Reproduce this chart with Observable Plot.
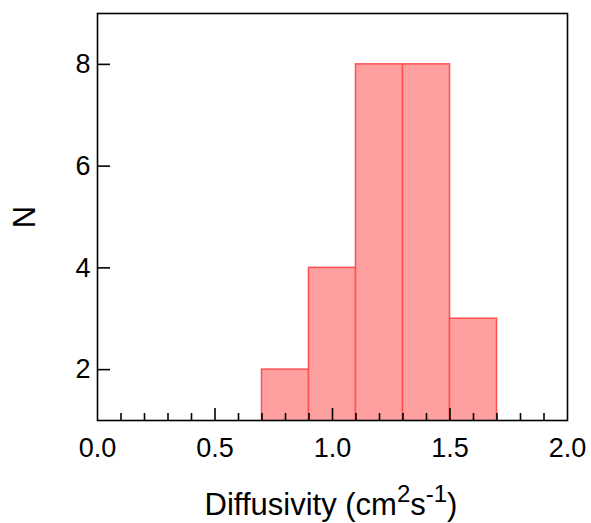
<!DOCTYPE html>
<html><head><meta charset="utf-8">
<script src="https://cdn.jsdelivr.net/npm/d3@7"></script>
<script src="https://cdn.jsdelivr.net/npm/@observablehq/plot@0.6"></script>
<style>body{margin:0;background:#fff}</style>
</head><body><div id="chart"></div>
<script>
const binStart = [0.7, 0.9, 1.1, 1.3, 1.5];
const binEnd = [0.9, 1.1, 1.3, 1.5, 1.7];
const counts = [2, 4, 8, 8, 3];
const xMajorTicks = [0.0, 0.5, 1.0, 1.5, 2.0];
const xMinorTicks = [0.1,0.2,0.3,0.4,0.6,0.7,0.8,0.9,1.1,1.2,1.3,1.4,1.6,1.7,1.8,1.9];
const yTicks = [2, 4, 6, 8];
const xLabel = "Diffusivity (cm";
const yLabel = "N";

const bins = binStart.map((s, i) => ({x1: s, x2: binEnd[i], n: counts[i]}));
const font = "Liberation Sans, Arial, sans-serif";

const svg = Plot.plot({
  width: 591, height: 523,
  marginLeft: 97, marginRight: 24, marginTop: 13, marginBottom: 103,
  style: {fontFamily: font, background: "#fff", color: "#000"},
  x: {domain: [0, 2]},
  y: {domain: [1, 9]},
  marks: [
    Plot.rectY(bins, {x1: "x1", x2: "x2", y1: 0, y2: "n", fill: "#ffa0a0", stroke: "#ff5050", strokeWidth: 1.5, clip: true}),
    Plot.axisX(xMinorTicks, {tickSize: -7, text: null, strokeWidth: 1.6}),
    Plot.axisX(xMajorTicks.slice(1, -1), {tickSize: -12, text: null, strokeWidth: 1.6}),
    Plot.axisX(xMajorTicks, {tickSize: 0, tickPadding: 17, tickFormat: d3.format(".1f"), fontSize: 27, label: null}),
    Plot.axisY(yTicks, {tickSize: -13, strokeWidth: 1.6, tickPadding: 20, tickFormat: d3.format("d"), fontSize: 27, label: null}),
    Plot.frame({stroke: "#000", strokeWidth: 1.6})
  ]
});
document.getElementById("chart").appendChild(svg);

const s = d3.select(svg);
const t = s.append("text")
  .attr("x", 331).attr("y", 515)
  .attr("text-anchor", "middle")
  .attr("font-family", font).attr("font-size", 31).attr("fill", "#000");
t.append("tspan").text(xLabel);
t.append("tspan").attr("dy", -13).attr("font-size", 24).text("2");
t.append("tspan").attr("dy", 13).text("s");
t.append("tspan").attr("dy", -13).attr("font-size", 24).text("-1");
t.append("tspan").attr("dy", 13).text(")");

s.append("text")
  .attr("transform", "translate(35,217) rotate(-90)")
  .attr("text-anchor", "middle")
  .attr("font-family", font).attr("font-size", 31).attr("fill", "#000")
  .text(yLabel);
</script></body></html>
